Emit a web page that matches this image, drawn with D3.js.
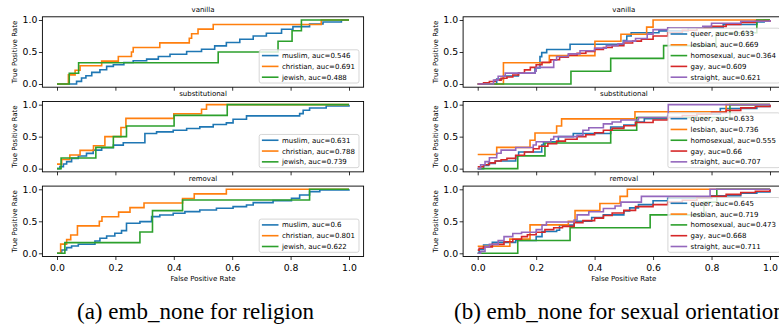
<!DOCTYPE html>
<html>
<head>
<meta charset="utf-8">
<script src="https://cdn.jsdelivr.net/npm/d3@7"></script>
<style>
  body { margin: 0; background: #fff; }
  svg { display: block; }
</style>
</head>
<body>
<script>
// ---- data: [fpr, tpr] step points (jump x, new y) ----
const settings = ['vanilla', 'substitutional', 'removal'];
const fprTicks = [0, 0.2, 0.4, 0.6, 0.8, 1.0];
const tprTicks = [0, 0.5, 1.0];

const religionGroups = ['muslim', 'christian', 'jewish'];
const religionAuc = [[0.546, 0.691, 0.488], [0.631, 0.788, 0.739], [0.6, 0.801, 0.622]];

const orientationGroups = ['queer', 'lesbian', 'homosexual', 'gay', 'straight'];
const orientationAuc = [[0.633, 0.669, 0.364, 0.609, 0.621], [0.633, 0.736, 0.555, 0.66, 0.707], [0.645, 0.719, 0.473, 0.668, 0.711]];

const muslimVanilla = [[0,0],[0.067,0.041],[0.084,0.093],[0.099,0.13],[0.119,0.181],[0.147,0.223],[0.17,0.275],[0.193,0.3],[0.229,0.337],[0.261,0.363],[0.307,0.389],[0.347,0.43],[0.387,0.466],[0.444,0.508],[0.495,0.544],[0.54,0.596],[0.58,0.648],[0.626,0.7],[0.672,0.751],[0.717,0.793],[0.769,0.855],[0.808,0.896],[0.865,0.938],[0.911,0.969],[0.974,1],[1,1]];
const christianVanilla = [[0,0],[0.039,0.143],[0.062,0.214],[0.079,0.286],[0.153,0.357],[0.21,0.429],[0.255,0.5],[0.261,0.571],[0.352,0.643],[0.453,0.714],[0.461,0.786],[0.483,0.857],[0.535,0.929],[0.905,1],[1,1]];
const jewishVanilla = [[0,0],[0.042,0.167],[0.074,0.333],[0.552,0.5],[0.757,0.667],[0.805,0.833],[0.837,1],[1,1]];

const muslimSubst = [[0,0],[0.01,0.031],[0.022,0.073],[0.033,0.109],[0.05,0.161],[0.073,0.197],[0.101,0.238],[0.124,0.29],[0.153,0.326],[0.193,0.368],[0.227,0.404],[0.301,0.549],[0.341,0.575],[0.398,0.601],[0.444,0.627],[0.489,0.653],[0.535,0.689],[0.58,0.715],[0.603,0.772],[0.649,0.825],[0.831,0.86],[0.843,0.912],[0.865,0.948],[0.922,0.979],[1,1]];
const christianSubst = [[0,0.071],[0.016,0.143],[0.044,0.214],[0.079,0.286],[0.125,0.357],[0.164,0.5],[0.219,0.643],[0.236,0.786],[0.4,0.857],[0.495,0.929],[0.512,1],[1,1]];
const jewishSubst = [[0,0],[0.014,0.167],[0.133,0.333],[0.193,0.5],[0.238,0.667],[0.401,0.833],[0.583,1],[1,1]];

const muslimRemoval = [[0,0],[0.016,0.052],[0.033,0.089],[0.05,0.115],[0.073,0.141],[0.13,0.193],[0.147,0.234],[0.17,0.271],[0.198,0.313],[0.221,0.354],[0.238,0.469],[0.284,0.495],[0.324,0.573],[0.352,0.599],[0.398,0.625],[0.438,0.651],[0.489,0.677],[0.546,0.703],[0.603,0.729],[0.649,0.755],[0.672,0.792],[0.74,0.823],[0.803,0.859],[0.831,0.911],[0.865,0.964],[0.9,0.99],[1,1]];
const christianRemoval = [[0,0],[0.0125,0.143],[0.033,0.214],[0.047,0.286],[0.07,0.429],[0.145,0.5],[0.154,0.571],[0.211,0.643],[0.25,0.714],[0.298,0.786],[0.43,0.857],[0.47,0.929],[0.58,1],[1,1]];
const jewishRemoval = [[0,0],[0.027,0.167],[0.284,0.333],[0.327,0.667],[0.43,0.833],[0.865,1],[1,1]];

const queerVanilla = [[0,0],[0.065,0.078],[0.088,0.125],[0.139,0.167],[0.196,0.25],[0.213,0.427],[0.219,0.49],[0.236,0.54],[0.316,0.62],[0.498,0.68],[0.51,0.75],[0.525,0.8],[0.62,0.83],[0.72,0.88],[0.84,0.93],[0.955,0.97],[0.98,1],[1,1]];
const lesbianVanilla = [[0,0],[0.088,0.333],[0.245,0.444],[0.401,0.667],[0.49,0.778],[0.578,0.889],[0.6,1],[1,1]];
const homosexualVanilla = [[0,0],[0.319,0.2],[0.455,0.4],[0.636,0.6],[0.815,0.8],[0.955,1],[1,1]];
const gayVanilla = [[0,0],[0.02,0.02],[0.04,0.04],[0.06,0.06],[0.08,0.09],[0.1,0.11],[0.12,0.14],[0.14,0.17],[0.16,0.22],[0.18,0.26],[0.2,0.3],[0.22,0.34],[0.25,0.38],[0.28,0.42],[0.31,0.45],[0.34,0.48],[0.37,0.51],[0.4,0.54],[0.43,0.57],[0.46,0.6],[0.5,0.64],[0.53,0.67],[0.56,0.7],[0.6,0.75],[0.65,0.8],[0.7,0.84],[0.75,0.87],[0.8,0.9],[0.85,0.93],[0.9,0.96],[0.95,0.98],[1,1]];
const straightVanilla = [[0,0],[0.054,0.06],[0.07,0.12],[0.094,0.17],[0.196,0.2],[0.2,0.26],[0.26,0.37],[0.27,0.43],[0.31,0.47],[0.35,0.52],[0.4,0.56],[0.44,0.6],[0.48,0.63],[0.5,0.67],[0.54,0.71],[0.58,0.78],[0.6,0.85],[0.65,0.88],[0.77,0.9],[0.8,0.95],[0.9,0.98],[1,1]];

const queerSubst = [[0,0],[0.02,0.05],[0.037,0.083],[0.06,0.12],[0.13,0.2],[0.14,0.26],[0.219,0.37],[0.225,0.42],[0.276,0.5],[0.327,0.55],[0.455,0.65],[0.5,0.68],[0.54,0.73],[0.57,0.78],[0.65,0.8],[0.75,0.85],[0.83,0.94],[0.955,0.97],[1,1]];
const lesbianSubst = [[0,0.222],[0.065,0.333],[0.179,0.444],[0.196,0.556],[0.27,0.667],[0.287,0.778],[0.538,0.889],[0.85,1],[1,1]];
const homosexualSubst = [[0,0],[0.137,0.2],[0.23,0.4],[0.455,0.6],[0.544,0.8],[0.863,1],[1,1]];
const gaySubst = [[0,0.03],[0.02,0.06],[0.04,0.09],[0.06,0.12],[0.08,0.14],[0.1,0.16],[0.13,0.21],[0.16,0.26],[0.19,0.31],[0.21,0.35],[0.24,0.39],[0.27,0.43],[0.3,0.46],[0.34,0.5],[0.37,0.53],[0.4,0.56],[0.43,0.6],[0.46,0.63],[0.5,0.67],[0.54,0.72],[0.6,0.76],[0.65,0.8],[0.7,0.83],[0.75,0.85],[0.8,0.88],[0.85,0.91],[0.9,0.95],[0.95,0.97],[1,1]];
const straightSubst = [[0,0],[0.01,0.06],[0.025,0.11],[0.04,0.17],[0.065,0.24],[0.08,0.29],[0.13,0.33],[0.19,0.37],[0.2,0.42],[0.25,0.46],[0.26,0.5],[0.34,0.52],[0.36,0.6],[0.38,0.64],[0.43,0.7],[0.46,0.73],[0.49,0.76],[0.55,0.8],[0.65,0.83],[0.652,1],[1,1]];

const queerRemoval = [[0,0],[0.005,0.06],[0.02,0.13],[0.05,0.17],[0.13,0.2],[0.2,0.26],[0.22,0.34],[0.27,0.36],[0.28,0.44],[0.33,0.5],[0.39,0.56],[0.43,0.6],[0.5,0.66],[0.52,0.71],[0.55,0.76],[0.6,0.82],[0.65,0.86],[0.8,0.9],[0.9,0.94],[0.955,0.96],[1,1]];
const lesbianRemoval = [[0,0.111],[0.11,0.222],[0.179,0.444],[0.31,0.5],[0.333,0.667],[0.418,0.778],[0.487,0.889],[0.512,1],[1,1]];
const homosexualRemoval = [[0,0],[0.137,0.2],[0.316,0.4],[0.59,0.6],[0.774,0.8],[0.818,1],[1,1]];
const gayRemoval = [[0,0.05],[0.005,0.08],[0.02,0.1],[0.05,0.14],[0.09,0.18],[0.12,0.22],[0.15,0.26],[0.17,0.29],[0.2,0.33],[0.23,0.37],[0.26,0.4],[0.29,0.42],[0.33,0.48],[0.36,0.51],[0.4,0.55],[0.43,0.59],[0.46,0.63],[0.5,0.67],[0.54,0.73],[0.6,0.76],[0.65,0.8],[0.7,0.83],[0.75,0.87],[0.8,0.89],[0.85,0.92],[0.9,0.95],[0.95,0.97],[1,1]];
const straightRemoval = [[0,0],[0.01,0.03],[0.025,0.1],[0.04,0.14],[0.07,0.2],[0.09,0.26],[0.12,0.31],[0.15,0.33],[0.2,0.37],[0.22,0.44],[0.235,0.49],[0.33,0.52],[0.34,0.6],[0.38,0.65],[0.43,0.7],[0.47,0.74],[0.49,0.8],[0.56,0.89],[0.795,1],[1,1]];

const colors = ['#1f77b4', '#ff7f0e', '#2ca02c', '#d62728', '#9467bd'];

// ---- layout ----
const W = 779, H = 333;
const plotTop = 16.8, plotH = 70.4, plotStep = 84.65;
const font = '"DejaVu Sans", sans-serif';

const panels = [
  {
    left: 42.4, right: 363.6, groups: religionGroups, auc: religionAuc,
    curves: [[muslimVanilla, christianVanilla, jewishVanilla],
             [muslimSubst, christianSubst, jewishSubst],
             [muslimRemoval, christianRemoval, jewishRemoval]],
    caption: '(a) emb_none for religion', captionX: 77
  },
  {
    left: 463.1, right: 784.6, groups: orientationGroups, auc: orientationAuc,
    curves: [[queerVanilla, lesbianVanilla, homosexualVanilla, gayVanilla, straightVanilla],
             [queerSubst, lesbianSubst, homosexualSubst, gaySubst, straightSubst],
             [queerRemoval, lesbianRemoval, homosexualRemoval, gayRemoval, straightRemoval]],
    caption: '(b) emb_none for sexual orientation', captionX: 454
  }
];

const svg = d3.select('body').append('svg')
  .attr('width', W)
  .attr('height', H)
  .style('background', '#fff');

panels.forEach((p, pi) => {
  const x = d3.scaleLinear().domain([-0.05, 1.05]).range([p.left, p.right]);
  const cx = (p.left + p.right) / 2;

  settings.forEach((setting, si) => {
    const top = plotTop + si * plotStep;
    const y = d3.scaleLinear().domain([-0.05, 1.05]).range([top + plotH, top]);
    const g = svg.append('g');
    const clipId = `clip-${pi}-${si}`;

    g.append('clipPath').attr('id', clipId)
      .append('rect')
      .attr('x', p.left).attr('y', top)
      .attr('width', p.right - p.left).attr('height', plotH);

    // title
    g.append('text')
      .attr('x', cx).attr('y', top - 5.3)
      .attr('text-anchor', 'middle')
      .style('font-family', font).style('font-size', '7px')
      .style('fill', '#000')
      .text(setting);

    // y axis
    const yAxis = g.append('g')
      .attr('transform', `translate(${p.left},0)`)
      .call(d3.axisLeft(y).tickValues(tprTicks).tickFormat(d3.format('.1f')).tickSize(3.5).tickPadding(1.5));
    yAxis.select('.domain').remove();
    yAxis.selectAll('text').style('font-family', font).style('font-size', '9.3px').style('fill', '#000');
    yAxis.selectAll('line').attr('stroke', '#000').attr('stroke-width', 0.8);

    g.append('text')
      .attr('transform', `translate(${p.left - 25.4},${top + plotH / 2}) rotate(-90)`)
      .attr('text-anchor', 'middle')
      .style('font-family', font).style('font-size', '7px')
      .style('fill', '#000')
      .text('True Positive Rate');

    // x axis, labels only on the last row
    const last = si === settings.length - 1;
    const xAxis = g.append('g')
      .attr('transform', `translate(0,${top + plotH})`)
      .call(d3.axisBottom(x).tickValues(fprTicks)
        .tickFormat(last ? d3.format('.1f') : () => '')
        .tickSize(3.5).tickPadding(4));
    xAxis.select('.domain').remove();
    xAxis.selectAll('text').style('font-family', font).style('font-size', '9.3px').style('fill', '#000');
    xAxis.selectAll('line').attr('stroke', '#000').attr('stroke-width', 0.8);

    if (last) {
      g.append('text')
        .attr('x', cx).attr('y', top + plotH + 24.5)
        .attr('text-anchor', 'middle')
        .style('font-family', font).style('font-size', '7px')
        .style('fill', '#000')
        .text('False Positive Rate');
    }

    // roc curves
    const line = d3.line()
      .x(d => x(d[0]))
      .y(d => y(d[1]))
      .curve(d3.curveStepAfter);

    g.append('g').attr('clip-path', `url(#${clipId})`)
      .selectAll('path')
      .data(p.curves[si])
      .join('path')
      .attr('d', line)
      .attr('fill', 'none')
      .attr('stroke', (d, i) => colors[i])
      .attr('stroke-width', 1.6)
      .attr('stroke-linejoin', 'miter');

    // frame
    g.append('rect')
      .attr('x', p.left).attr('y', top)
      .attr('width', p.right - p.left).attr('height', plotH)
      .attr('fill', 'none')
      .attr('stroke', '#000')
      .attr('stroke-width', 0.9);

    // legend, lower right
    const rowH = 10.8, padX = 2.7, handleLen = 16.6, gap = 3.4, padR = 4;
    const n = p.groups.length;
    const legH = (n - 1) * rowH + 11.6;
    const leg = g.append('g');
    const box = leg.append('rect')
      .attr('rx', 2).attr('ry', 2)
      .attr('fill', '#fff').attr('fill-opacity', 0.8)
      .attr('stroke', '#cccccc').attr('stroke-width', 0.8);
    const rows = leg.selectAll('g.row')
      .data(p.groups)
      .join('g')
      .attr('class', 'row')
      .attr('transform', (d, i) => `translate(0,${5.8 + i * rowH})`);
    rows.append('line')
      .attr('x1', padX).attr('x2', padX + handleLen)
      .attr('stroke', (d, i) => colors[i])
      .attr('stroke-width', 1.6);
    const texts = rows.append('text')
      .attr('x', padX + handleLen + gap)
      .attr('dy', '0.35em')
      .style('font-family', font).style('font-size', '7px')
      .style('fill', '#000')
      .text((d, i) => `${d}, auc=${p.auc[si][i]}`);
    let maxW = 0;
    texts.each(function () { maxW = Math.max(maxW, this.getComputedTextLength()); });
    const legW = padX + handleLen + gap + maxW + padR;
    box.attr('width', legW).attr('height', legH);
    leg.attr('transform', `translate(${p.right - 4.6 - legW},${top + plotH - 4.2 - legH})`);
  });

  // caption under each panel
  svg.append('text')
    .attr('x', p.captionX).attr('y', 319)
    .style('font-family', '"Liberation Serif", "Times New Roman", serif')
    .style('font-size', '23px')
    .style('fill', '#000')
    .text(p.caption);
});
</script>
</body>
</html>
